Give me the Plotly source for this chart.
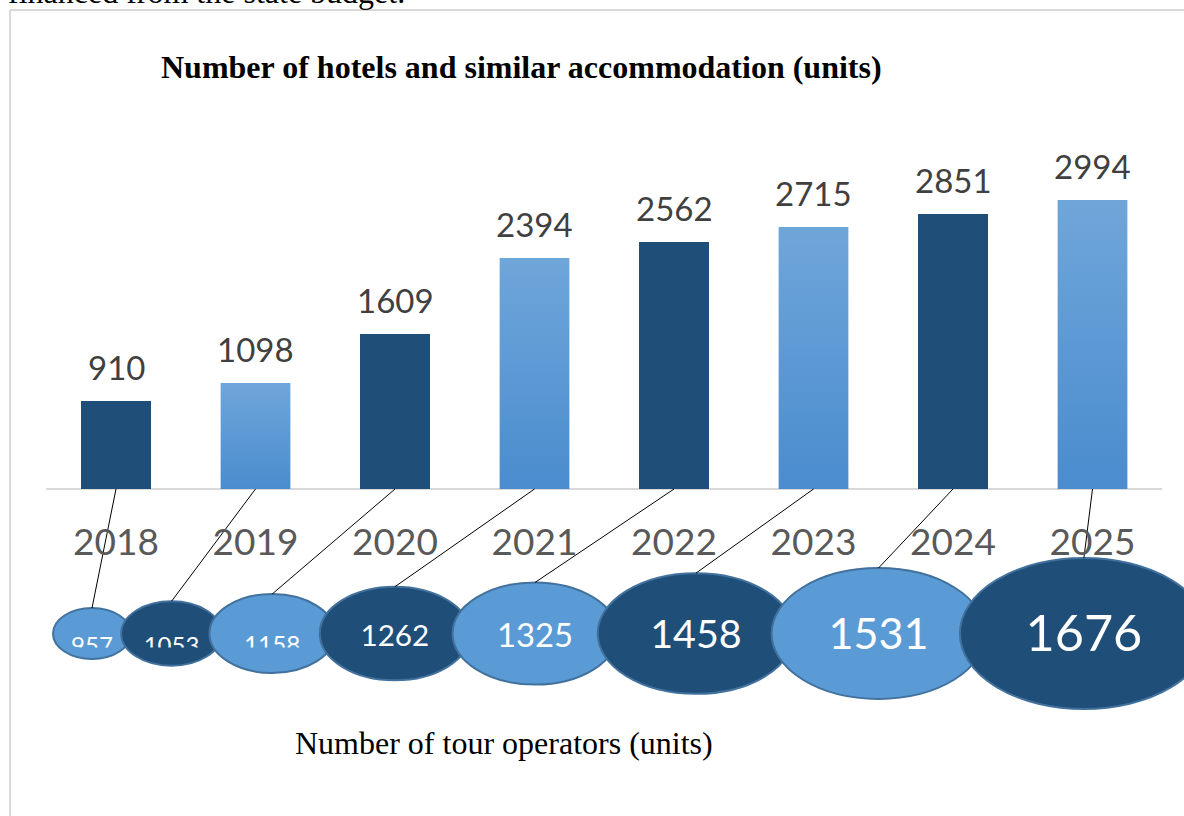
import math
import plotly.graph_objects as go

# ---------------- data ----------------
years = ["2018", "2019", "2020", "2021", "2022", "2023", "2024", "2025"]
hotels = [910, 1098, 1609, 2394, 2562, 2715, 2851, 2994]
operators = [957, 1053, 1158, 1262, 1325, 1458, 1531, 1676]

TITLE = "Number of hotels and similar accommodation (units)"
SUBTITLE = "Number of tour operators (units)"
PAGE_TEXT = "financed from the state budget."

# ---------------- layout constants ----------------
W, H = 1184, 816
X0, DX = 116, 139.5        # pixel centre of first category, category pitch
Y_BASE = 489               # pixel row of the bar baseline
PPU = 0.09653              # pixels per unit on the bar scale
BAR_W = 0.5

DARK = "#1F4E79"
LIGHT = "#5B9BD5"
LIGHT_TOP = "#6FA6DA"
LIGHT_BOT = "#4A8CCE"
OUTLINE = "#41719C"
GRID = "#D9D9D9"

n = len(years)
xs = list(range(n))

fig = go.Figure()

# bars (dark / light alternate)
bar_colors = [DARK if i % 2 == 0 else LIGHT for i in xs]
fig.add_trace(go.Bar(x=xs, y=hotels, width=BAR_W, marker=dict(color=bar_colors, line=dict(width=0)),
                     hoverinfo="skip", showlegend=False))

# vertical gradient overlay on the light bars
for i in xs:
    if i % 2 == 1:
        v = hotels[i]
        fig.add_trace(go.Scatter(
            x=[i - BAR_W / 2, i + BAR_W / 2, i + BAR_W / 2, i - BAR_W / 2, i - BAR_W / 2],
            y=[0, 0, v, v, 0], mode="lines", line=dict(width=0, color=LIGHT),
            fill="toself",
            fillgradient=dict(type="vertical", colorscale=[[0, LIGHT_BOT], [1, LIGHT_TOP]]),
            hoverinfo="skip", showlegend=False))

# value labels above bars
annotations = []
for i in xs:
    annotations.append(dict(x=i, y=hotels[i], xref="x", yref="y", text=str(hotels[i]),
                            showarrow=False, yanchor="bottom", yshift=12,
                            font=dict(family="Lato", size=33, color="#404040")))

# ---------------- ellipses (tour operators) ----------------
vmin, vmax = min(operators), max(operators)


def lerp(v, a, b):
    return a + (v - vmin) * (b - a) / (vmax - vmin)


ew = [lerp(v, 78, 248) for v in operators]
eh = [lerp(v, 51, 151) for v in operators]
ecx = [92.0]
for i in range(1, n):
    ecx.append(ecx[-1] + 0.89 * (ew[i - 1] + ew[i]) / 2)
ECY = 633.5

shapes = []
# frame of the chart area
shapes.append(dict(type="line", xref="x2", yref="y2", x0=10, x1=10, y0=10, y1=H,
                   line=dict(color=GRID, width=2), layer="below"))
shapes.append(dict(type="line", xref="x2", yref="y2", x0=10, x1=W, y0=10, y1=10,
                   line=dict(color=GRID, width=2), layer="below"))
# category axis line
shapes.append(dict(type="line", xref="x", yref="y", x0=-0.5, x1=n - 0.5, y0=0, y1=0,
                   line=dict(color=GRID, width=2), layer="below"))

for i, v in enumerate(operators):
    shapes.append(dict(type="circle", xref="x2", yref="y2",
                       x0=ecx[i] - ew[i] / 2, x1=ecx[i] + ew[i] / 2,
                       y0=ECY - eh[i] / 2, y1=ECY + eh[i] / 2,
                       fillcolor=LIGHT if i % 2 == 0 else DARK,
                       line=dict(color=OUTLINE, width=2), layer="below"))

# connector lines from bar base to ellipse top
cx_line, cy_line = [], []
for i in xs:
    cx_line += [X0 + DX * i, ecx[i], None]
    cy_line += [Y_BASE, ECY - eh[i] / 2, None]
fig.add_trace(go.Scatter(x=cx_line, y=cy_line, xaxis="x2", yaxis="y2", mode="lines",
                         line=dict(color="black", width=1), hoverinfo="skip", showlegend=False))

# numbers inside ellipses
fsz = [max(24, 0.36 * h - 4) for h in eh]
small = [h < 85 for h in eh]
ty = [ECY + (14 if s else 5) for s in small]
fig.add_trace(go.Scatter(x=ecx, y=ty, xaxis="x2", yaxis="y2", mode="text",
                         text=[str(v) for v in operators], textposition="middle center",
                         textfont=dict(family="Lato", size=fsz, color="white"),
                         hoverinfo="skip", showlegend=False))

# clipped text-box effect for the smallest ellipses: cover the lower part of the
# number with the ellipse's own fill, staying inside the ellipse outline
for i, v in enumerate(operators):
    if not small[i]:
        continue
    half = 0.58 * fsz[i] * len(str(v)) / 2 + 2
    a, b = ew[i] / 2 - 1.8, eh[i] / 2 - 1.8
    y_clip = ECY + 14
    y_txt = ty[i] + 0.45 * fsz[i]
    steps = 24
    pts_bottom = []
    for k in range(steps + 1):
        x = ecx[i] + half - 2 * half * k / steps
        dx = (x - ecx[i]) / a
        yb = ECY + b * math.sqrt(max(0.0, 1 - dx * dx))
        yb = max(y_clip, min(y_txt, yb))
        pts_bottom.append((x, yb))
    path = "M {:.2f},{:.2f} L {:.2f},{:.2f} ".format(ecx[i] - half, y_clip, ecx[i] + half, y_clip)
    path += " ".join("L {:.2f},{:.2f}".format(x, y) for x, y in pts_bottom) + " Z"
    shapes.append(dict(type="path", xref="x2", yref="y2", path=path,
                       fillcolor=LIGHT if i % 2 == 0 else DARK,
                       line=dict(width=0), layer="above"))

# texts
annotations.append(dict(x=521, y=67, xref="x2", yref="y2", text="<b>" + TITLE + "</b>",
                        showarrow=False, xanchor="center", yanchor="middle",
                        font=dict(family="Liberation Serif", size=32, color="black")))
annotations.append(dict(x=504, y=743, xref="x2", yref="y2", text=SUBTITLE,
                        showarrow=False, xanchor="center", yanchor="middle",
                        font=dict(family="Liberation Serif", size=32, color="black")))
annotations.append(dict(x=6, y=12, xref="x2", yref="y2", text=PAGE_TEXT,
                        showarrow=False, xanchor="left", yanchor="bottom",
                        font=dict(family="Liberation Serif", size=32, color="black")))

fig.update_layout(
    width=W, height=H, autosize=False,
    margin=dict(l=0, r=0, t=0, b=0),
    paper_bgcolor="white", plot_bgcolor="rgba(0,0,0,0)",
    showlegend=False, hovermode=False,
    bargap=0,
    xaxis=dict(range=[(0 - X0) / DX, (W - X0) / DX], domain=[0, 1],
               tickvals=xs, ticktext=years, anchor="free", position=(H - Y_BASE) / H,
               showgrid=False, zeroline=False, showline=False, ticks="",
               ticklabelstandoff=28,
               tickfont=dict(family="Lato", size=37, color="#595959"), fixedrange=True),
    yaxis=dict(range=[-(H - Y_BASE) / PPU, Y_BASE / PPU], domain=[0, 1], visible=False,
               fixedrange=True),
    xaxis2=dict(range=[0, W], overlaying="x", anchor="y2", visible=False, fixedrange=True),
    yaxis2=dict(range=[H, 0], overlaying="y", anchor="x2", visible=False, fixedrange=True),
    shapes=shapes, annotations=annotations,
)

fig.write_html("out.html", config={"displayModeBar": False},
               post_script="document.body.style.margin='0';document.body.style.overflow='hidden';")
